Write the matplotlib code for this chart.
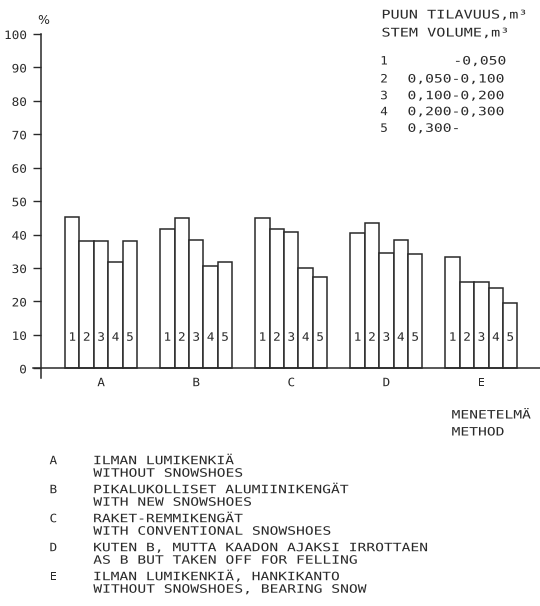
import matplotlib
matplotlib.use("Agg")
import matplotlib.pyplot as plt
from matplotlib.patheffects import AbstractPathEffect
from matplotlib.transforms import Affine2D
import numpy as np

methods = ["A", "B", "C", "D", "E"]
classes = ["1", "2", "3", "4", "5"]
values = {
    "A": [45.3, 38.2, 38.2, 31.8, 38.1],
    "B": [41.7, 45.0, 38.3, 30.7, 31.9],
    "C": [45.1, 41.7, 40.8, 30.1, 27.4],
    "D": [40.6, 43.5, 34.6, 38.3, 34.2],
    "E": [33.2, 25.7, 25.7, 24.0, 19.4],
}
yticks = [0, 10, 20, 30, 40, 50, 60, 70, 80, 90, 100]
volume_ranges = ["-0,050", "0,050-0,100", "0,100-0,200", "0,200-0,300", "0,300-"]
method_fi = ["ILMAN LUMIKENKIÄ", "PIKALUKOLLISET ALUMIINIKENGÄT", "RAKET-REMMIKENGÄT",
             "KUTEN B, MUTTA KAADON AJAKSI IRROTTAEN", "ILMAN LUMIKENKIÄ, HANKIKANTO"]
method_en = ["WITHOUT SNOWSHOES", "WITH NEW SNOWSHOES", "WITH CONVENTIONAL SNOWSHOES",
             "AS B BUT TAKEN OFF FOR FELLING", "WITHOUT SNOWSHOES, BEARING SNOW"]

W, H = 540, 606
plt.rcParams['font.family'] = ['DejaVu Sans Mono', 'DejaVu Sans']
ink = '#2a2a2a'
fs = 8.3
SX = 1.27      # plotter lettering is wider than the font
SXN = 1.1      # numbers / single letters


class Stretch(AbstractPathEffect):
    """Horizontally widen text (imitating plotter lettering)."""

    def __init__(self, sx, anchor='left'):
        super().__init__()
        self.sx = sx
        self.anchor = anchor

    def draw_path(self, renderer, gc, tpath, affine, rgbFace=None):
        ext = tpath.get_extents()
        if self.anchor == 'right':
            x0 = ext.x1
        elif self.anchor == 'center':
            x0 = 0.5 * (ext.x0 + ext.x1)
        else:
            x0 = ext.x0
        t = Affine2D().translate(-x0, 0).scale(self.sx, 1).translate(x0, 0) + affine
        renderer.draw_path(gc, tpath, t, rgbFace)


fig = plt.figure(figsize=(W / 100, H / 100), dpi=100)
fig.patch.set_facecolor('white')


def fx(px):
    return px / W


def fy(py):
    return 1 - py / H


def T(x, y, s, ha='left', sx=SX, size=fs):
    fig.text(fx(x), fy(y), s, fontsize=size, color=ink, ha=ha, va='center',
             path_effects=[Stretch(sx, ha)])


ax = fig.add_axes([fx(41), fy(378), fx(540) - fx(41), fy(34) - fy(378)])
ax.set_xlim(-0.632, 4.616)
ax.set_ylim(-2.9, 100)

group_w = 0.758
bw = group_w / 5
for gi, m in enumerate(methods):
    for bi, v in enumerate(values[m]):
        xc = gi - group_w / 2 + bw * (bi + 0.5)
        ax.bar(xc, v, width=bw, bottom=0, facecolor='white', edgecolor=ink, linewidth=1.1)
        ax.text(xc, 9.3, classes[bi], ha='center', va='center', fontsize=fs, color=ink,
                path_effects=[Stretch(SXN, 'center')])
    ax.text(gi, -4.3, m, ha='center', va='center', fontsize=fs, color=ink, clip_on=False,
            path_effects=[Stretch(SXN, 'center')])

ax.axhline(0, xmin=-0.016, xmax=1, color=ink, linewidth=1.1, clip_on=False)

for s in ['top', 'right', 'bottom']:
    ax.spines[s].set_visible(False)
ax.spines['left'].set_color(ink)
ax.spines['left'].set_linewidth(1.1)
ax.set_yticks(yticks)
ax.set_yticklabels([str(t) for t in yticks])
ax.tick_params(axis='y', direction='out', length=6, width=1.0, pad=4.3,
               labelsize=fs, colors=ink)
for lbl in ax.get_yticklabels():
    lbl.set_path_effects([Stretch(SXN, 'right')])
ax.set_xticks([])
ax.patch.set_visible(False)

fig.text(fx(43), fy(20), "%", fontsize=9, color=ink, ha='center', va='center',
         family='DejaVu Sans')

# Top right legend
T(381.7, 15, "PUUN TILAVUUS,m³", size=8.6)
T(381.7, 33, "STEM VOLUME,m³", size=8.6)
rows_y = [61, 79, 95.7, 111.7, 128.3]
for i, (c, r) in enumerate(zip(classes, volume_ranges)):
    T(384, rows_y[i], c, ha='center', sx=SXN)
    if i == 0:
        T(505.7, rows_y[i], r, ha='right')
    else:
        T(407.7, rows_y[i], r)

# Axis name
T(451.7, 415, "MENETELMÄ")
T(451.7, 432, "METHOD")

# Bottom legend
for i, m in enumerate(methods):
    y1 = 460.7 + 29 * i
    T(53.3, y1, m, ha='center', sx=SXN)
    T(93.3, y1, method_fi[i])
    T(93.3, y1 + 12.5, method_en[i])

fig.savefig("out.png", dpi=100, facecolor='white')
